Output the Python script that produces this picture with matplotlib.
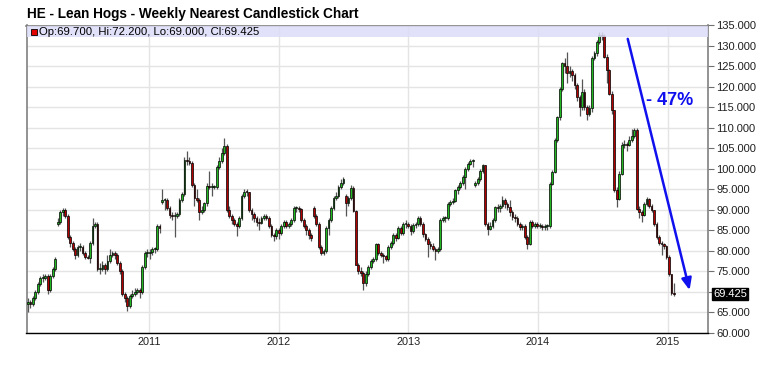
import matplotlib
matplotlib.use("Agg")
import matplotlib.pyplot as plt
import matplotlib.dates as mdates
import numpy as np
import pandas as pd
from datetime import datetime

# ---------------- data (weekly OHLC) ----------------
start_week = "2010-01-25"

opens = [
    67.0, 67.5, 67.0, 68.5, 70.0, 72.0, 73.5, 73.5, 74.0, 70.5,
    74.0, 75.5, 86.5, 87.0, 89.5, 90.0, 88.5, 83.5, 82.0, 80.5,
    79.0, 81.0, 81.0, 79.5, 78.5, 78.3, 82.0, 86.0, 86.5, 75.5,
    75.5, 76.5, 75.5, 77.5, 79.0, 79.5, 79.0, 77.0, 75.0, 69.5,
    68.5, 66.5, 69.0, 69.5, 70.0, 70.5, 70.0, 76.0, 79.5, 79.5,
    79.8, 80.5, 80.5, 86.0, 92.0, 92.5, 92.5, 90.5, 88.8, 88.5,
    88.5, 89.0, 92.5, 94.0, 102.3, 102.0, 101.5, 96.0, 93.0, 92.5,
    89.5, 90.0, 91.7, 95.8, 95.5, 95.5, 95.5, 100.6, 102.0, 104.0,
    105.5, 90.0, 88.5, 87.5, 86.5, 86.0, 88.0, 93.3, 94.5, 94.3,
    90.0, 89.0, 88.0, 87.0, 86.8, 88.0, 88.5, 88.0, 86.0, 84.0,
    83.6, 85.0, 84.5, 86.0, 87.0, 86.0, 86.5, 87.6, 90.5, 90.5,
    90.3, 87.6, 86.0, 85.0, 84.0, 90.5, 88.5, 86.5, 81.0, 79.5,
    80.0, 85.5, 87.5, 90.5, 93.0, 93.5, 95.5, 96.5, 93.5, 91.7,
    93.0, 95.4, 89.7, 76.7, 75.0, 74.6, 72.2, 74.5, 76.0, 77.5,
    78.0, 81.6, 79.5, 79.0, 78.7, 78.0, 81.0, 82.0, 84.0, 83.2,
    85.6, 84.5, 86.5, 86.5, 86.0, 84.8, 86.4, 86.5, 88.0, 86.6,
    84.2, 83.0, 81.8, 81.3, 80.5, 80.0, 80.6, 87.5, 88.0, 88.0,
    91.5, 92.0, 92.3, 94.8, 95.5, 96.5, 98.0, 100.0, 101.3, 102.0,
    96.0, 96.5, 97.5, 99.4, 100.9, 86.6, 85.4, 86.0, 87.5, 90.7,
    90.5, 91.0, 92.5, 91.5, 90.8, 89.5, 88.3, 88.0, 86.6, 85.8,
    86.0, 83.5, 81.8, 87.0, 86.2, 86.5, 86.0, 86.2, 85.8, 86.0,
    86.0, 96.4, 99.3, 107.0, 112.7, 119.6, 125.8, 125.0, 123.3, 124.0,
    123.0, 120.5, 117.6, 115.0, 118.8, 115.0, 113.5, 114.8, 127.0, 128.2,
    131.0, 132.7, 132.5, 127.4, 124.1, 118.4, 114.3, 94.8, 92.8, 98.9,
    105.8, 106.2, 105.8, 107.0, 108.0, 109.5, 90.3, 89.5, 88.7, 91.5,
    92.8, 91.0, 89.9, 86.6, 83.4, 82.0, 81.8, 81.3, 78.5, 74.4,
    69.7,
]

highs = [
    68.5, 68.0, 69.0, 70.5, 72.5, 74.0, 74.5, 74.5, 74.5, 74.5,
    76.0, 78.5, 88.0, 90.0, 90.5, 90.5, 89.0, 84.0, 82.5, 81.0,
    81.5, 82.0, 81.5, 80.0, 79.0, 82.5, 88.0, 87.0, 87.0, 77.0,
    77.5, 77.0, 79.0, 80.5, 80.0, 80.0, 79.5, 77.5, 75.5, 70.0,
    69.0, 69.5, 70.5, 71.0, 71.0, 71.0, 76.5, 80.0, 80.5, 80.5,
    81.0, 81.0, 86.5, 86.5, 95.0, 93.0, 93.0, 91.0, 89.5, 89.5,
    89.5, 93.0, 94.5, 103.0, 104.3, 103.0, 102.0, 96.5, 95.0, 93.0,
    91.0, 92.0, 96.5, 99.4, 96.5, 96.0, 101.0, 103.0, 105.0, 107.6,
    106.0, 91.0, 89.0, 88.0, 87.0, 88.5, 93.8, 95.0, 95.0, 94.5,
    90.5, 89.5, 88.5, 88.0, 88.5, 89.0, 89.0, 88.5, 86.5, 84.5,
    85.5, 85.5, 86.5, 87.5, 87.5, 87.0, 88.0, 91.0, 91.0, 91.0,
    90.5, 88.0, 86.5, 85.5, 84.5, 91.0, 89.0, 87.0, 81.5, 80.5,
    86.0, 88.0, 91.0, 93.5, 94.5, 96.0, 97.5, 98.0, 94.0, 93.5,
    96.0, 95.8, 90.0, 77.0, 76.0, 75.0, 75.0, 76.5, 78.0, 78.5,
    82.0, 82.0, 80.0, 79.5, 79.0, 81.5, 82.5, 84.5, 84.5, 86.0,
    86.0, 87.0, 87.5, 87.0, 86.5, 86.8, 87.0, 88.5, 88.5, 87.0,
    84.5, 83.5, 82.5, 82.0, 81.0, 81.0, 88.0, 88.5, 88.5, 92.0,
    92.5, 93.0, 95.0, 96.0, 97.0, 98.5, 100.5, 101.8, 102.5, 102.5,
    97.0, 98.0, 100.0, 101.3, 101.0, 87.0, 87.0, 88.0, 91.0, 91.5,
    91.5, 93.5, 93.0, 92.0, 92.5, 90.0, 89.0, 88.5, 87.0, 86.5,
    86.5, 84.0, 87.5, 87.5, 87.0, 87.0, 86.8, 86.5, 86.5, 86.5,
    96.8, 99.8, 107.5, 113.0, 120.0, 126.0, 127.0, 128.6, 125.0, 124.5,
    123.5, 121.0, 118.0, 122.0, 119.5, 115.5, 115.5, 127.5, 128.8, 131.5,
    133.5, 133.5, 133.0, 128.0, 124.5, 119.0, 114.5, 95.5, 99.5, 106.5,
    107.0, 106.5, 108.0, 109.8, 110.0, 110.0, 91.0, 90.0, 92.0, 93.2,
    93.0, 91.5, 90.0, 87.0, 84.0, 82.5, 82.0, 81.5, 79.0, 74.5,
    72.2,
]

lows = [
    65.0, 66.0, 66.5, 68.0, 69.5, 71.5, 72.5, 73.0, 69.5, 70.0,
    73.5, 75.0, 86.0, 86.5, 88.5, 88.0, 83.0, 81.0, 80.0, 78.0,
    78.5, 80.0, 79.0, 78.0, 78.0, 77.0, 81.5, 85.5, 75.0, 74.5,
    75.0, 74.5, 75.0, 77.0, 78.5, 78.0, 76.5, 74.5, 69.0, 67.5,
    65.3, 66.0, 68.5, 69.0, 69.5, 68.5, 69.5, 75.5, 78.5, 78.0,
    79.0, 79.5, 80.0, 84.5, 91.5, 90.0, 90.0, 88.0, 87.5, 83.5,
    88.0, 88.5, 92.0, 93.5, 101.0, 101.0, 95.5, 91.0, 92.0, 87.5,
    89.0, 89.5, 91.0, 95.0, 93.5, 95.0, 95.0, 100.0, 101.5, 103.5,
    89.5, 88.0, 86.5, 86.0, 83.6, 85.5, 87.5, 93.0, 93.5, 89.5,
    87.5, 87.0, 86.0, 85.0, 86.5, 87.5, 87.5, 85.5, 83.5, 82.5,
    83.0, 83.0, 84.0, 85.5, 85.5, 85.5, 86.0, 87.0, 89.5, 89.5,
    87.0, 85.5, 84.0, 83.0, 82.5, 88.0, 86.0, 80.5, 79.0, 79.0,
    79.5, 84.0, 87.0, 90.0, 92.5, 93.0, 95.0, 96.0, 88.5, 91.0,
    92.5, 89.5, 76.5, 74.5, 74.0, 70.6, 71.5, 74.0, 75.5, 77.0,
    77.5, 79.0, 78.5, 77.0, 77.5, 77.5, 80.5, 81.5, 82.5, 83.0,
    84.0, 84.0, 85.5, 85.5, 84.0, 84.5, 85.5, 86.0, 86.0, 83.5,
    82.5, 78.5, 80.5, 80.0, 77.7, 79.5, 80.0, 87.0, 87.0, 87.5,
    91.0, 91.5, 92.0, 94.0, 95.0, 96.0, 95.0, 99.5, 101.0, 100.5,
    95.5, 96.0, 97.0, 99.0, 86.0, 83.8, 85.0, 85.5, 87.0, 89.5,
    89.5, 90.5, 90.5, 90.0, 88.5, 87.5, 87.0, 86.0, 85.0, 85.0,
    83.0, 80.5, 81.5, 85.5, 85.5, 85.5, 85.5, 85.0, 85.0, 85.0,
    85.5, 96.0, 99.0, 106.5, 112.0, 119.0, 123.5, 121.0, 122.5, 121.5,
    119.5, 116.5, 113.0, 114.5, 114.5, 112.0, 113.0, 114.0, 126.5, 127.5,
    130.5, 131.5, 127.0, 121.0, 118.0, 113.5, 94.5, 90.7, 92.5, 98.5,
    105.0, 104.5, 105.5, 106.5, 107.5, 90.0, 88.0, 87.0, 88.5, 91.0,
    90.5, 89.5, 86.0, 83.0, 81.5, 79.0, 80.5, 78.0, 74.0, 69.2,
    69.0,
]

closes = [
    67.5, 67.0, 68.5, 70.0, 72.0, 73.5, 73.5, 74.0, 70.5, 74.0,
    75.5, 78.0, 87.0, 89.5, 90.0, 88.5, 83.5, 82.0, 80.5, 79.0,
    81.0, 81.0, 79.5, 78.5, 78.3, 82.0, 86.0, 86.5, 75.5, 75.5,
    76.5, 75.5, 77.5, 79.0, 79.5, 79.0, 77.0, 75.0, 69.5, 68.5,
    66.5, 69.0, 69.5, 70.0, 70.5, 70.0, 76.0, 79.5, 79.5, 79.8,
    80.5, 80.5, 86.0, 85.5, 92.5, 92.5, 90.5, 88.8, 88.5, 88.5,
    89.0, 92.5, 94.0, 102.3, 102.0, 101.5, 96.0, 93.0, 92.5, 89.5,
    90.0, 91.7, 95.8, 95.5, 95.5, 95.5, 100.6, 102.0, 104.0, 105.5,
    90.0, 88.5, 87.5, 86.5, 86.0, 88.0, 93.3, 94.5, 94.3, 90.0,
    89.0, 88.0, 87.0, 86.8, 88.0, 88.5, 88.0, 86.0, 84.0, 83.6,
    85.0, 84.5, 86.0, 87.0, 86.0, 86.5, 87.6, 90.5, 90.5, 90.3,
    87.6, 86.0, 85.0, 84.0, 83.2, 88.5, 86.5, 81.0, 79.5, 80.0,
    85.5, 87.5, 90.5, 93.0, 93.5, 95.5, 96.5, 97.5, 91.7, 93.0,
    95.4, 89.7, 76.7, 75.0, 74.6, 72.2, 74.5, 76.0, 77.5, 78.0,
    81.6, 79.5, 79.0, 78.7, 78.0, 81.0, 82.0, 84.0, 83.2, 85.6,
    84.5, 86.5, 86.5, 86.0, 84.8, 86.4, 86.5, 88.0, 86.6, 84.2,
    83.0, 81.8, 81.3, 80.5, 80.0, 80.6, 87.5, 88.0, 88.0, 91.5,
    92.0, 92.3, 94.8, 95.5, 96.5, 98.0, 100.0, 101.3, 102.0, 102.2,
    96.5, 97.5, 99.4, 100.9, 86.6, 85.4, 86.0, 87.5, 90.7, 90.5,
    91.0, 92.5, 91.5, 90.8, 89.5, 88.3, 88.0, 86.6, 85.8, 86.0,
    83.5, 81.8, 87.0, 86.2, 86.5, 86.0, 86.2, 85.8, 86.0, 86.0,
    96.4, 99.3, 107.0, 112.7, 119.6, 125.8, 125.0, 123.3, 124.0, 123.0,
    120.5, 117.6, 115.0, 118.8, 115.0, 113.5, 114.8, 127.0, 128.2, 131.0,
    132.7, 132.5, 127.4, 124.1, 118.4, 114.3, 94.8, 92.8, 98.9, 105.8,
    106.2, 105.8, 107.0, 108.0, 109.5, 90.3, 89.5, 88.7, 91.5, 92.8,
    91.0, 89.9, 86.6, 83.4, 82.0, 81.8, 81.3, 78.5, 74.4, 69.7,
    69.425,
]

year_ticks = ["2011", "2012", "2013", "2014", "2015"]
price_ticks = [60, 65, 70, 75, 80, 85, 90, 95, 100, 105, 110, 115, 120, 125, 130, 135]
title = "HE - Lean Hogs - Weekly Nearest Candlestick Chart"
legend_text = "Op:69.700, Hi:72.200, Lo:69.000, Cl:69.425"
last_price = 69.425
last_label = "69.425"
change_text = "- 47%"
arrow_start = ("2014-09-09", 132.4)
arrow_end = ("2015-03-06", 69.8)
change_pos = ("2015-01-06", 116.8)

# ---------------- plotting ----------------
n = min(len(opens), len(highs), len(lows), len(closes))
o = np.array(opens[:n]); h = np.array(highs[:n]); l = np.array(lows[:n]); c = np.array(closes[:n])
dates = pd.date_range(start_week, periods=n, freq="7D")
xd = mdates.date2num(dates.to_pydatetime())

plt.rcParams["font.family"] = ["Liberation Sans", "DejaVu Sans"]

W, H = 773, 368
fig = plt.figure(figsize=(W / 100, H / 100), dpi=100)
left, right, top, bottom = 26.5, 708, 25.5, 333
ax = fig.add_axes([left / W, 1 - bottom / H, (right - left) / W, (bottom - top) / H])

up = c >= o
green = "#22b822"
red = "#b00000"

ax.vlines(xd, l, h, color="#555555", linewidth=0.9, zorder=2)
body_bot = np.minimum(o, c)
body_h = np.maximum(np.abs(c - o), 0.25)
ax.bar(xd[up], body_h[up], bottom=body_bot[up], width=5.0, color=green,
       edgecolor="black", linewidth=0.5, zorder=3)
ax.bar(xd[~up], body_h[~up], bottom=body_bot[~up], width=5.0, color=red,
       edgecolor="black", linewidth=0.5, zorder=3)

ax.set_ylim(60, 135)
ax.set_xlim(mdates.date2num(datetime(2010, 1, 21)), mdates.date2num(datetime(2015, 4, 25)))

# legend band
ax.axhspan(132.2, 135, color="#dcdcf8", alpha=0.85, zorder=4, linewidth=0)
ax.plot([0.0105], [0.9795], marker="s", markersize=4.5, color="#e00000",
        markeredgecolor="black", markeredgewidth=0.6, transform=ax.transAxes, zorder=5)
ax.text(0.0185, 0.9795, legend_text, transform=ax.transAxes, fontsize=8.2,
        va="center", ha="left", zorder=5, color="black")

# grid and ticks
ax.set_yticks(price_ticks)
ax.set_yticklabels(["" if abs(v - last_price) < 2.5 else f"{v:.3f}" for v in price_ticks])
yr_pos = [mdates.date2num(datetime(int(y), 1, 1)) for y in year_ticks]
ax.set_xticks(yr_pos)
ax.set_xticklabels(year_ticks)
ax.grid(True, color="#e4e4e4", linewidth=1.0, zorder=0)
ax.set_axisbelow(True)

ax.yaxis.tick_right()
ax.tick_params(axis="y", which="both", direction="out", length=4, width=0.8,
               color="#707070", labelsize=8, pad=2, labelcolor="#202020")
ax.tick_params(axis="x", length=0, labelsize=7.8, pad=3, labelcolor="#202020")

for side in ["left", "top", "right"]:
    ax.spines[side].set_color("#808080")
    ax.spines[side].set_linewidth(1.2)
ax.spines["bottom"].set_color("black")
ax.spines["bottom"].set_linewidth(1.0)

# last price label
ax.text(1.008, (last_price - 60) / 75, last_label, transform=ax.transAxes,
        fontsize=8, color="white", va="center", ha="left",
        bbox=dict(boxstyle="square,pad=0.1", facecolor="black", edgecolor="black"))

# arrow and annotation
ax.annotate("", xy=(mdates.datestr2num(arrow_end[0]), arrow_end[1]),
            xytext=(mdates.datestr2num(arrow_start[0]), arrow_start[1]),
            arrowprops=dict(arrowstyle="-|>,head_length=0.7,head_width=0.3",
                            color="#1010ee", linewidth=1.8),
            zorder=6)
ax.text(mdates.datestr2num(change_pos[0]), change_pos[1], change_text,
        fontsize=13, fontweight="bold", color="#1010ee", ha="center", va="center", zorder=6)

fig.text(27 / W, 1 - 14 / H, title, fontsize=9.8, fontweight="bold", va="center", ha="left")

fig.savefig("out.png", dpi=100)
